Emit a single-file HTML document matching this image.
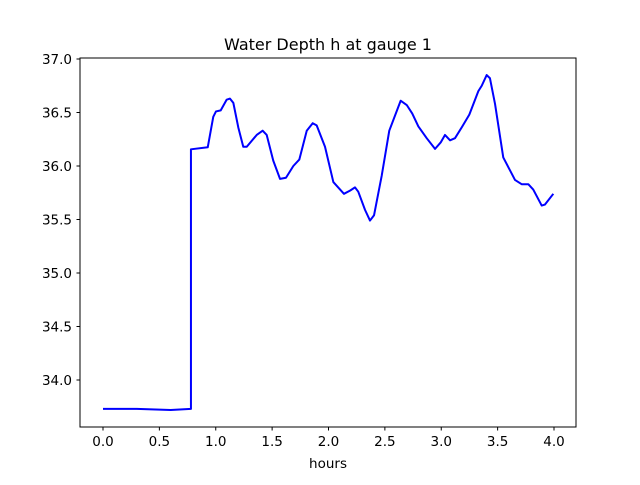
<!DOCTYPE html>
<html><head><meta charset="utf-8"><style>
body{margin:0;background:#fff;font-family:"Liberation Sans","DejaVu Sans",sans-serif}
</style></head><body>
<svg id="chart" width="640" height="480" xmlns="http://www.w3.org/2000/svg" font-family="DejaVu Sans, Liberation Sans, sans-serif">
<rect width="640" height="480" fill="#fff"/>
<text x="328" y="50" font-size="16" text-anchor="middle">Water Depth h at gauge 1</text>
<text x="328" y="468" font-size="13.5" text-anchor="middle">hours</text>
<g id="ticks"></g>
<polyline id="series" fill="none" stroke="#0000ff" stroke-width="2" stroke-linejoin="round"/>
<rect x="80" y="58" width="496" height="369" fill="none" stroke="#000" stroke-width="1"/>
</svg>
<script>
const hours = [0,0.3,0.6,0.78,0.78,0.929,0.978,1.002,1.044,1.097,1.126,1.156,1.2,1.244,1.275,1.363,1.416,1.452,1.51,1.57,1.623,1.688,1.741,1.807,1.86,1.895,1.969,2.043,2.137,2.191,2.235,2.264,2.324,2.368,2.404,2.472,2.539,2.64,2.694,2.743,2.797,2.871,2.945,2.995,3.033,3.078,3.122,3.181,3.249,3.329,3.359,3.403,3.432,3.477,3.55,3.654,3.713,3.772,3.816,3.891,3.92,3.994];
const depth = [33.73,33.73,33.72,33.73,36.156,36.175,36.46,36.51,36.52,36.62,36.63,36.59,36.36,36.18,36.18,36.29,36.33,36.29,36.05,35.88,35.89,36.0,36.06,36.33,36.4,36.38,36.18,35.85,35.74,35.77,35.8,35.76,35.59,35.49,35.54,35.91,36.33,36.61,36.57,36.49,36.37,36.26,36.16,36.22,36.29,36.24,36.26,36.36,36.48,36.7,36.75,36.85,36.82,36.58,36.08,35.87,35.83,35.83,35.78,35.63,35.64,35.74];
const xTicks = [0,0.5,1,1.5,2,2.5,3,3.5,4];
const yTicks = [34,34.5,35,35.5,36,36.5,37];
const xs = v => 103 + v*112.75;
const ys = v => 59 + (37 - v)*107;
const NS = "http://www.w3.org/2000/svg";
const g = document.getElementById("ticks");
xTicks.forEach(t => {
  const l = document.createElementNS(NS,"line");
  
  
  l.setAttribute("x1",xs(t));l.setAttribute("x2",xs(t));l.setAttribute("y1",427);l.setAttribute("y2",430.5);l.setAttribute("stroke","#000");
  g.appendChild(l);
  const tx = document.createElementNS(NS,"text");
  
  
  tx.setAttribute("x",xs(t));tx.setAttribute("y",446);tx.setAttribute("font-size","13.5");tx.setAttribute("text-anchor","middle");
  tx.textContent = t.toFixed(1);
  g.appendChild(tx);
});
yTicks.forEach(t => {
  const l = document.createElementNS(NS,"line");
  
  
  l.setAttribute("x1",76.5);l.setAttribute("x2",80);l.setAttribute("y1",ys(t));l.setAttribute("y2",ys(t));l.setAttribute("stroke","#000");
  g.appendChild(l);
  const tx = document.createElementNS(NS,"text");
  
  
  tx.setAttribute("x",72);tx.setAttribute("y",ys(t)+5);tx.setAttribute("font-size","13.5");tx.setAttribute("text-anchor","end");
  tx.textContent = t.toFixed(1);
  g.appendChild(tx);
});
document.getElementById("series").setAttribute("points", hours.map((h,i)=>xs(h)+","+ys(depth[i])).join(" "));
</script>
</body></html>
